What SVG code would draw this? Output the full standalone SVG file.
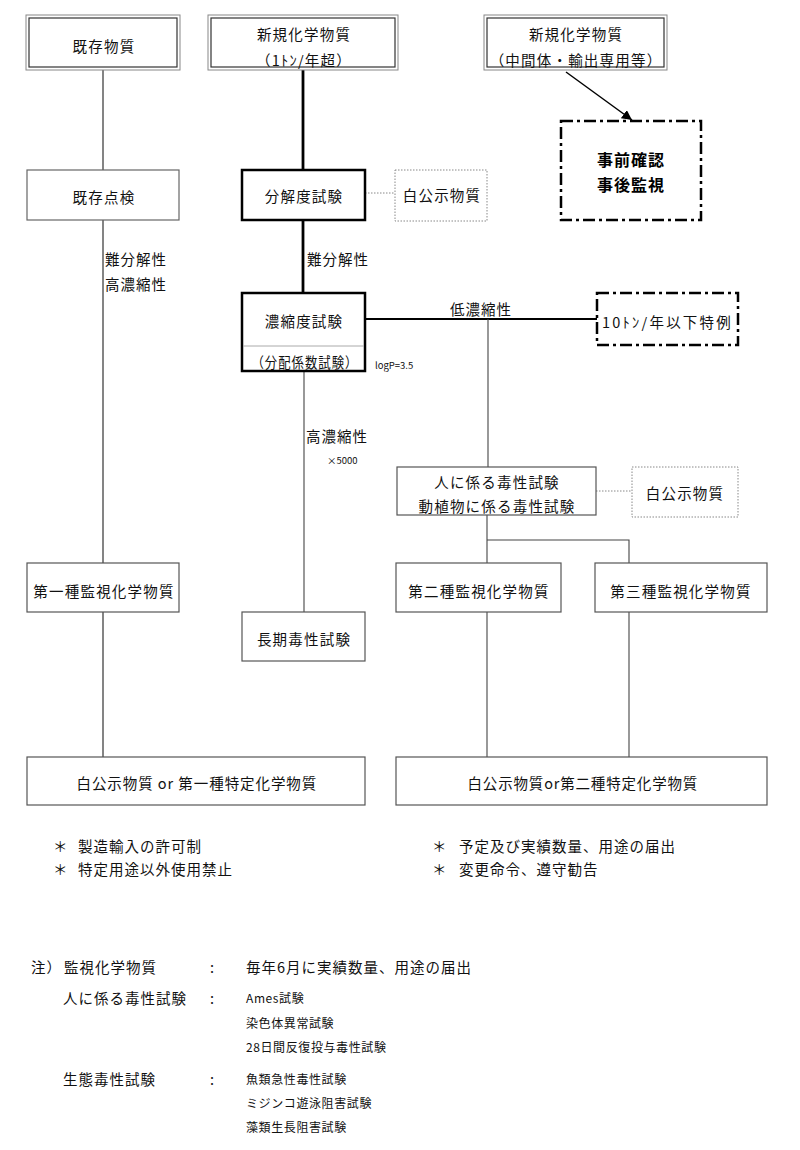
<svg xmlns="http://www.w3.org/2000/svg" width="800" height="1150" viewBox="0 0 800 1150">
<defs>
<marker id="arr" viewBox="0 0 10 10" refX="10" refY="5" markerWidth="10" markerHeight="10" markerUnits="userSpaceOnUse" orient="auto">
<path d="M0,0 L10,5 L0,10 z" fill="#000"/>
</marker>
<style>
text{font-family:"Noto Sans CJK JP","Noto Sans CJK SC",sans-serif;fill:#111}
.l{font-size:14.5px;letter-spacing:1.2px;text-anchor:middle;dominant-baseline:central}
.b{font-size:16px;font-weight:bold;letter-spacing:1px;text-anchor:middle;dominant-baseline:central;fill:#000}
.s{font-size:9.5px;dominant-baseline:central}
.n{font-size:14.5px;letter-spacing:1px;dominant-baseline:central}
.ns{font-size:12px;letter-spacing:0.6px;dominant-baseline:central}
.box{fill:#fff;stroke:#555;stroke-width:1.2}
.thick{fill:#fff;stroke:#000;stroke-width:2.5}
.dot{fill:#fff;stroke:#888;stroke-width:1;stroke-dasharray:1.5,1.5}
.dd{fill:#fff;stroke:#000;stroke-width:2.5;stroke-dasharray:12,4,3,4}
.outer{fill:#fff;stroke:#888;stroke-width:1}
.inner{fill:none;stroke:#333;stroke-width:1.2}
.gray{stroke:#777;stroke-width:1.8;fill:none}
.blk{stroke:#000;stroke-width:2.8;fill:none}
.blk2{stroke:#000;stroke-width:2;fill:none}
.thin{stroke:#444;stroke-width:1.1;fill:none}
.dl{stroke:#888;stroke-width:1;stroke-dasharray:1.5,1.5;fill:none}
</style>
</defs>
<rect width="800" height="1150" fill="#fff"/>

<g id="connectors">
<line class="gray" x1="103" y1="70" x2="103" y2="170"/>
<line class="gray" x1="103" y1="220" x2="103" y2="563"/>
<line class="gray" x1="103" y1="612" x2="103" y2="757"/>
<line class="blk" x1="303" y1="70" x2="303" y2="170"/>
<line class="blk" x1="303" y1="220" x2="303" y2="293"/>
<line class="thin" x1="304" y1="371" x2="304" y2="612"/>
<line class="blk2" x1="365" y1="319" x2="597" y2="319"/>
<line class="thin" x1="488" y1="319" x2="488" y2="467"/>
<polyline class="thin" points="487,515 487,563"/>
<polyline class="thin" points="487,540 629,540 629,563"/>
<line class="thin" x1="487" y1="612" x2="487" y2="757"/>
<line class="thin" x1="629" y1="612" x2="629" y2="757"/>
<line class="dl" x1="365" y1="193" x2="395" y2="193"/>
<line class="dl" x1="596" y1="491" x2="632" y2="491"/>
<line stroke="#000" stroke-width="1.5" x1="566" y1="72" x2="632" y2="120" marker-end="url(#arr)"/>
</g>

<g id="n_kizon">
<rect class="outer" x="26" y="15" width="154" height="55"/>
<rect class="inner" x="29" y="18" width="148" height="49"/>
<text class="l" x="104" y="45">既存物質</text>
</g>

<g id="n_shinki">
<rect class="outer" x="208" y="15" width="190" height="55"/>
<rect class="inner" x="211" y="18" width="184" height="49"/>
<text class="l" x="304" y="33">新規化学物質</text>
<text class="l" x="304" y="59">（1ﾄﾝ/年超）</text>
</g>

<g id="n_shinki2">
<rect class="outer" x="484" y="15" width="183" height="55"/>
<rect class="inner" x="487" y="18" width="177" height="49"/>
<text class="l" x="576" y="33">新規化学物質</text>
<text class="l" x="576" y="59">（中間体・輸出専用等）</text>
</g>

<g id="n_jizen">
<rect class="dd" x="561" y="121" width="140" height="99"/>
<text class="b" x="631" y="159">事前確認</text>
<text class="b" x="631" y="184">事後監視</text>
</g>

<g id="n_kizontenken">
<rect class="box" x="27" y="170" width="152" height="50" style="stroke:#666"/>
<text class="l" x="104" y="196">既存点検</text>
</g>

<g id="n_bunkaido">
<rect class="thick" x="242" y="170" width="123" height="50"/>
<text class="l" x="304" y="195">分解度試験</text>
</g>

<g id="n_hakukouji1">
<rect class="dot" x="395" y="170" width="92" height="51"/>
<text class="l" x="442" y="194">白公示物質</text>
</g>

<g id="labels">
<text class="n" x="105" y="258">難分解性</text>
<text class="n" x="105" y="283">高濃縮性</text>
<text class="n" x="307" y="258">難分解性</text>
<text class="n" x="450" y="308">低濃縮性</text>
<text class="n" x="306" y="435">高濃縮性</text>
<text class="s" x="327" y="460">×5000</text>
<text class="s" x="375" y="365">logP=3.5</text>
</g>

<g id="n_noshukudo">
<rect class="thick" x="242" y="293" width="123" height="78"/>
<line x1="243" y1="346" x2="364" y2="346" stroke="#aaa" stroke-width="1"/>
<text class="l" x="304" y="320">濃縮度試験</text>
<text class="l" x="305" y="361" textLength="107" lengthAdjust="spacingAndGlyphs">（分配係数試験）</text>
</g>

<g id="n_10ton">
<rect class="dd" x="597" y="293" width="141" height="52"/>
<text class="l" x="667" y="321" textLength="130" lengthAdjust="spacing">10ﾄﾝ/年以下特例</text>
</g>

<g id="n_toxic">
<rect class="box" x="397" y="467" width="199" height="48"/>
<text class="l" x="497" y="481">人に係る毒性試験</text>
<text class="l" x="497" y="505">動植物に係る毒性試験</text>
</g>

<g id="n_hakukouji2">
<rect class="dot" x="632" y="467" width="106" height="50"/>
<text class="l" x="685" y="492">白公示物質</text>
</g>

<g id="n_dai1">
<rect class="box" x="27" y="563" width="152" height="49"/>
<text class="l" x="104" y="590">第一種監視化学物質</text>
</g>

<g id="n_choki">
<rect class="box" x="242" y="612" width="123" height="49"/>
<text class="l" x="304" y="638">長期毒性試験</text>
</g>

<g id="n_dai2">
<rect class="box" x="396" y="563" width="165" height="49"/>
<text class="l" x="479" y="590">第二種監視化学物質</text>
</g>

<g id="n_dai3">
<rect class="box" x="595" y="563" width="172" height="49"/>
<text class="l" x="681" y="590">第三種監視化学物質</text>
</g>

<g id="n_bottom1">
<rect class="box" x="27" y="757" width="338" height="48"/>
<text class="l" x="197" y="782" textLength="241" lengthAdjust="spacing">白公示物質 or 第一種特定化学物質</text>
</g>

<g id="n_bottom2">
<rect class="box" x="396" y="757" width="371" height="48"/>
<text class="l" x="583" y="782" textLength="231" lengthAdjust="spacing">白公示物質or第二種特定化学物質</text>
</g>

<g id="notes">
<text class="n" x="53" y="845">＊</text>
<text class="n" x="78" y="845">製造輸入の許可制</text>
<text class="n" x="53" y="868">＊</text>
<text class="n" x="78" y="868">特定用途以外使用禁止</text>
<text class="n" x="432" y="845">＊</text>
<text class="n" x="459" y="845">予定及び実績数量、用途の届出</text>
<text class="n" x="432" y="868">＊</text>
<text class="n" x="459" y="868">変更命令、遵守勧告</text>

<text class="n" x="31" y="966">注）</text>
<text class="n" x="64" y="966">監視化学物質</text>
<text class="n" x="210" y="966">:</text>
<text class="n" x="246" y="966">毎年6月に実績数量、用途の届出</text>

<text class="n" x="63" y="997">人に係る毒性試験</text>
<text class="n" x="210" y="997">:</text>
<text class="ns" x="246" y="997">Ames試験</text>
<text class="ns" x="246" y="1022">染色体異常試験</text>
<text class="ns" x="246" y="1046">28日間反復投与毒性試験</text>

<text class="n" x="63" y="1078">生態毒性試験</text>
<text class="n" x="210" y="1078">:</text>
<text class="ns" x="246" y="1078">魚類急性毒性試験</text>
<text class="ns" x="246" y="1102">ミジンコ遊泳阻害試験</text>
<text class="ns" x="246" y="1126">藻類生長阻害試験</text>
</g>
</svg>
